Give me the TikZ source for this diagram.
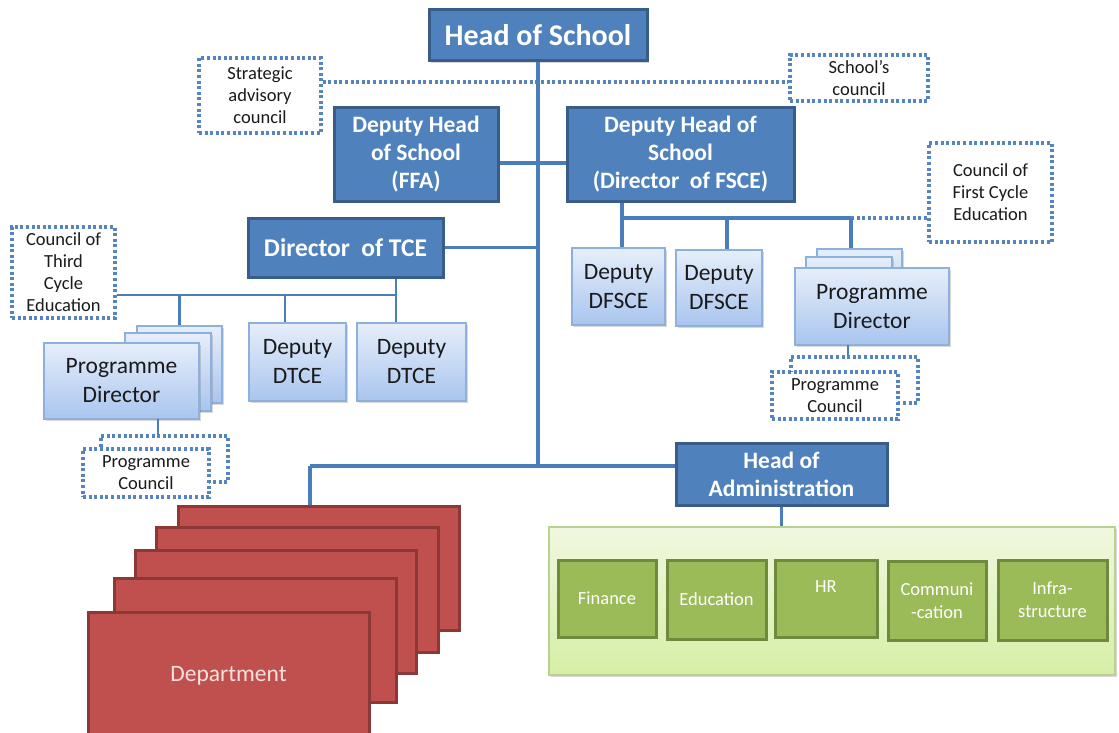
\documentclass[tikz,border=0pt]{standalone}
\usepackage{fontspec}
\setmainfont{Carlito}
\usetikzlibrary{shadows}
\definecolor{dkf}{HTML}{4F81BD}
\definecolor{dkb}{HTML}{385D8A}
\definecolor{ltt}{HTML}{E6EEFA}
\definecolor{ltbt}{HTML}{A9C5EE}
\definecolor{ltb}{HTML}{8DB0DD}
\definecolor{lnc}{HTML}{4A7EBB}
\definecolor{dotc}{HTML}{5585BF}
\definecolor{rdf}{HTML}{C0504D}
\definecolor{rdb}{HTML}{8C3836}
\definecolor{gct}{HTML}{F0F8E0}
\definecolor{gcb}{HTML}{D6EEA6}
\definecolor{gcl}{HTML}{B9D38E}
\definecolor{gsf}{HTML}{9BBB59}
\definecolor{gsb}{HTML}{6F8A3C}
\definecolor{txt}{HTML}{1A1A1A}
\definecolor{deptxt}{HTML}{F5E1E0}
\newcommand\bx[7]{\node[#6, minimum width={(#4-#2)*1pt}, minimum height={(#5-#3)*1pt}] (#1) at ({(#2+#4)/2},{(#3+#5)/2}) {#7};}
\tikzset{
  shad/.style={drop shadow={shadow xshift=2pt, shadow yshift=-2pt, opacity=0.25, fill=black!60}},
  dk/.style={draw=dkb, fill=dkf, line width=3pt, text=white, align=center, inner sep=0pt, shad},
  lt/.style={draw=ltb, line width=1.5pt, top color=ltt, bottom color=ltbt, text=txt, align=center, inner sep=0pt, shad},
  dotbox/.style={draw=dotc, line width=3.2pt, dash pattern=on 3pt off 2.6pt, fill=white, align=center, inner sep=0pt, text=txt, font=\fontsize{18.5}{22}\selectfont},
  dotline/.style={draw=dotc, line width=3.2pt, dash pattern=on 3pt off 2.6pt},
  conn/.style={draw=lnc, line width=3.4pt},
  thinconn/.style={draw=lnc, line width=2.2pt},
  red/.style={draw=rdb, fill=rdf, line width=3pt, text=deptxt, align=center, inner sep=0pt},
  gcont/.style={draw=gcl, line width=1.5pt, top color=gct, bottom color=gcb, inner sep=0pt, shad},
  gsub/.style={draw=gsb, fill=gsf, line width=3pt, text=white, align=center, inner sep=0pt, font=\fontsize{18.5}{23}\selectfont},
  fbig/.style={font=\fontsize{30}{34}\selectfont\bfseries},
  fmid/.style={font=\fontsize{23.5}{28}\selectfont\bfseries},
  freg/.style={font=\fontsize{23.5}{29}\selectfont},
}
\begin{document}
\begin{tikzpicture}[x=1pt,y=-1pt]
\fill[white] (0,0) rectangle (1119,733);
\useasboundingbox (0,0) rectangle (1119,733);

% top level
\bx{hos}{429}{10}{647}{61}{dk,fbig}{Head of School}
\bx{sac}{199}{58}{321}{133}{dotbox}{Strategic\\advisory\\council}
\bx{scc}{790}{55}{928}{101}{dotbox}{School’s\\council}
\bx{ffa}{334}{108}{498}{201}{dk,fmid}{Deputy Head\\of School\\(FFA)}
\bx{fsce}{567}{108}{794}{201}{dk,fmid}{Deputy Head of\\School\\(Director\ \ of FSCE)}
\bx{tce}{248}{218}{443}{277}{dk,font=\fontsize{25.5}{28}\selectfont\bfseries}{Director\ \ of TCE}

% TCE branch
\bx{ctce}{12}{227}{115}{318}{dotbox}{Council of\\Third\\Cycle\\Education}
\bx{pdlb2}{137}{326}{222}{403}{lt}{}
\bx{pdlb1}{125}{333}{211}{411}{lt}{}
\bx{pdl}{44}{343}{199}{419}{lt,font=\fontsize{23.5}{29}\selectfont}{Programme\\Director}
\bx{dtce1}{249}{323}{346}{401}{lt,freg}{Deputy\\DTCE}
\bx{dtce2}{357}{323}{466}{401}{lt,freg}{Deputy\\DTCE}
\bx{pclb}{101}{436}{228}{482}{dotbox}{}
\bx{pcl}{83}{449}{209}{497}{dotbox}{Programme\\Council}

% FSCE branch
\bx{cfce}{929}{143}{1052}{242}{dotbox}{Council of\\First Cycle\\Education}
\bx{dfsce1}{572}{248}{665}{325}{lt,freg}{Deputy\\DFSCE}
\bx{dfsce2}{676}{250}{762}{326}{lt,freg}{Deputy\\DFSCE}
\bx{pdrb2}{817}{249}{902}{320}{lt}{}
\bx{pdrb1}{806}{257}{892}{320}{lt}{}
\bx{pdr}{795}{268}{949}{345}{lt,font=\fontsize{23.5}{29}\selectfont}{Programme\\Director}
\bx{pcrb}{791}{357}{918}{403}{dotbox}{}
\bx{pcr}{772}{372}{898}{419}{dotbox}{Programme\\Council}

% administration
\bx{hoa}{676}{443}{887}{505}{dk,fmid}{Head of\\Administration}
\bx{gc}{549}{527}{1115}{675}{gcont}{}
\bx{fin}{558}{560}{656}{637}{gsub}{Finance}
\bx{edu}{667}{560}{766}{639}{gsub}{Education}
\bx{hr}{775}{560}{877}{637}{gsub}{HR\\\mbox{}}
\bx{com}{888}{561}{986}{640}{gsub}{Communi\\-cation}
\bx{inf}{998}{560}{1107}{640}{gsub}{Infra-\\structure}

% departments
\bx{dep5}{178}{506}{459}{630}{red}{}
\bx{dep4}{156}{527}{438}{652}{red}{}
\bx{dep3}{135}{550}{416}{673}{red}{}
\bx{dep2}{114}{578}{396}{702}{red}{}
\bx{dep1}{88}{612}{369}{740}{red,font=\fontsize{23.5}{26}\selectfont}{Department}

% coordinates
\coordinate (j1) at (538,466);
\coordinate (hl) at (538,163);
\coordinate (sl) at (538,82);
\coordinate (tb) at (396,295);
\coordinate (d1) at (285,295);
\coordinate (pc1) at (158,419);
\coordinate (fb) at (622,218);
\coordinate (f2) at (727,218);
\coordinate (f3) at (851,218);
\coordinate (pc2) at (848,345);
\coordinate (dj) at (310,466);

% dotted links
\draw[dotline] (sac.east |- sl) -- (scc.west |- sl);
\draw[dotline] (f3) -- (cfce.west |- f3);

% main connectors
\draw[conn] (hos.south -| j1) -- (j1);
\draw[conn] (ffa.east |- hl) -- (fsce.west |- hl);
\draw[conn] (tce.east) -- (tce.east -| hl);
\draw[conn] (dj) -- (hoa.west |- j1);
\draw[conn] (dj) -- (dep5.north -| dj);
\draw[conn] (hoa.south) -- (hoa.south |- gc.north);

% TCE branch
\draw[thinconn] (tce.south -| tb) -- (dtce2.north -| tb);
\draw[thinconn] (ctce.east |- tb) -- (tb);
\draw[thinconn] (d1) -- (d1 |- dtce1.north);
\draw[thinconn] (pdlb2.north |- tb) -- (pdlb2.north);
\draw[thinconn] (pc1) -- (pc1 |- pclb.north);

% FSCE branch
\draw[conn] (fsce.south -| fb) -- (dfsce1.north -| fb);
\draw[conn] (fb) -- (f3);
\draw[conn] (f2) -- (f2 |- dfsce2.north);
\draw[conn] (f3) -- (f3 |- pdrb2.north);
\draw[thinconn] (pc2) -- (pc2 |- pcrb.north);
\end{tikzpicture}
\end{document}
